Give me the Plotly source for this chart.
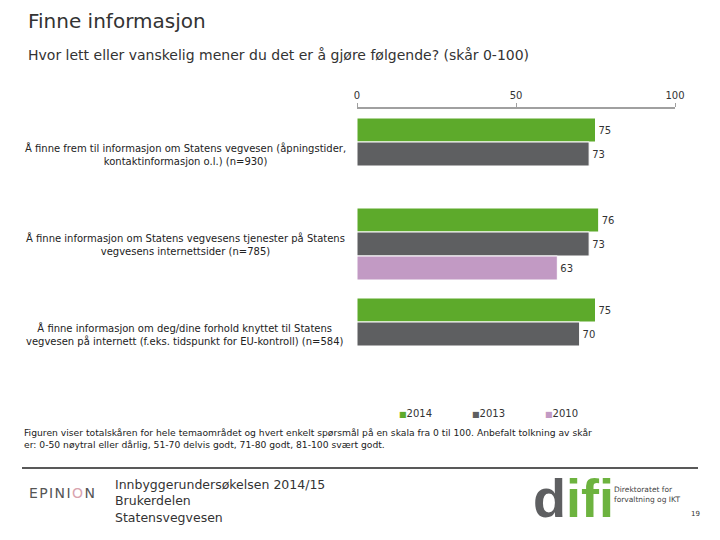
import plotly.graph_objects as go

# ---- data ----
categories = [
    "Å finne frem til informasjon om Statens vegvesen (åpningstider,<br>kontaktinformasjon o.l.) (n=930)",
    "Å finne informasjon om Statens vegvesens tjenester på Statens<br>vegvesens internettsider (n=785)",
    "Å finne informasjon om deg/dine forhold knyttet til Statens<br>vegvesen på internett (f.eks. tidspunkt for EU-kontroll) (n=584)",
]
cat_keys = ["q1", "q2", "q3"]
years = ["2014", "2013", "2010"]
values_2014 = [75, 76, 75]
values_2013 = [73, 73, 70]
values_2010 = [None, 63, None]
series = [values_2014, values_2013, values_2010]
colors = ["#5DAA2B", "#5E5F61", "#C29AC4"]
x_ticks = [0, 50, 100]

title = "Finne informasjon"
subtitle = "Hvor lett eller vanskelig mener du det er å gjøre følgende? (skår 0-100)"
footnote = ("Figuren viser totalskåren for hele temaområdet og hvert enkelt spørsmål på en skala fra 0 til 100. "
            "Anbefalt tolkning av skår<br>er: 0-50 nøytral eller dårlig, 51-70 delvis godt, 71-80 godt, 81-100 svært godt.")
footer_lines = "Innbyggerundersøkelsen 2014/15<br>Brukerdelen<br>Statensvegvesen"

# ---- layout geometry (target pixels in the 720x540 window) ----
OFF = 8  # page body margin
W, H = 720, 540
AX0, AX1, TOP, BOT = 357, 675, 109, 379
L, T = AX0 - OFF, TOP - OFF
R = W - (AX1 - OFF)
B = H - (BOT - OFF)
PW, PH = AX1 - AX0, BOT - TOP


def px(x):
    return (x - AX0) / PW


def py(y):
    return (BOT - y) / PH


FONT = "DejaVu Sans"
TXT = "#333333"

fig = go.Figure()
for name, vals, col in zip(years, series, colors):
    fig.add_trace(go.Bar(
        name=name, y=cat_keys, x=vals, orientation="h",
        marker=dict(color=col, line=dict(color="white", width=1)),
        text=[("" if v is None else str(v)) for v in vals],
        textposition="outside", cliponaxis=False,
        textfont=dict(family=FONT, size=10, color=TXT),
        showlegend=False,
    ))

annotations = []
# category labels centered to the left of the axis
for key, lab in zip(cat_keys, categories):
    annotations.append(dict(x=px(185), xref="paper", y=key, yref="y", text=lab,
                            showarrow=False, xanchor="center", yanchor="middle", align="center",
                            font=dict(family=FONT, size=10, color="#222222")))

extra = [
    dict(x=px(26), y=py(20.5), text=title,
         font=dict(family=FONT, size=20, color="#333333")),
    dict(x=px(26), y=py(55), text=subtitle, font=dict(family=FONT, size=14, color="#333333")),
    dict(x=px(22), y=py(438.5), text=footnote, align="left",
         font=dict(family=FONT, size=9.2, color="#222222")),
    dict(x=px(27), y=py(493), text="E\u200aP\u200aI\u200aN\u200aI\u200a<span style='color:#D9A3AE'>O</span>\u200aN",
         font=dict(family=FONT, size=14, color="#555555")),
    dict(x=px(113), y=py(501), text=footer_lines, align="left",
         font=dict(family=FONT, size=12.5, color="#333333")),
    dict(x=px(531), y=py(498), text="<b><span style='color:#5E5F61'>d</span>ifi</b>",
         font=dict(family="Liberation Sans", size=54, color="#6DB33F")),
    dict(x=px(612), y=py(494), text="Direktoratet for<br>forvaltning og IKT", align="left",
         font=dict(family=FONT, size=7.5, color="#444444")),
    dict(x=px(689), y=py(514), text="19", font=dict(family=FONT, size=7, color="#333333")),
]
# legend (small squares + labels) built from years / colors
leg_x = [397, 470, 543]
for yr, col, lx in zip(years, colors, leg_x):
    extra.append(dict(x=px(lx), y=py(413),
                      text=f"<span style='color:{col};font-size:8px'>■</span>{yr}",
                      font=dict(family=FONT, size=10, color=TXT)))
for a in extra:
    a.update(xref="paper", yref="paper", showarrow=False, xanchor="left", yanchor="middle")
annotations += extra

fig.update_layout(
    width=W, height=H,
    margin=dict(l=L, r=R, t=T, b=B),
    paper_bgcolor="white", plot_bgcolor="white",
    barmode="group", bargap=0.2, bargroupgap=0,
    font=dict(family=FONT, size=10, color=TXT),
    annotations=annotations,
    showlegend=False,
    shapes=[dict(type="line", xref="paper", yref="paper",
                 x0=px(22), x1=px(698), y0=py(468), y1=py(468),
                 line=dict(color="#222222", width=1.5))],
    xaxis=dict(side="top", range=[0, 100], tickvals=x_ticks, ticks="outside", ticklen=4,
               tickcolor="#A0A0A0", showline=True, linecolor="#A0A0A0", linewidth=2,
               showgrid=False, zeroline=False,
               tickfont=dict(family=FONT, size=10, color=TXT)),
    yaxis=dict(range=[2.5, -0.5], showticklabels=False, showgrid=False, zeroline=False,
               showline=False, ticks=""),
)

fig.write_html("out.html")
